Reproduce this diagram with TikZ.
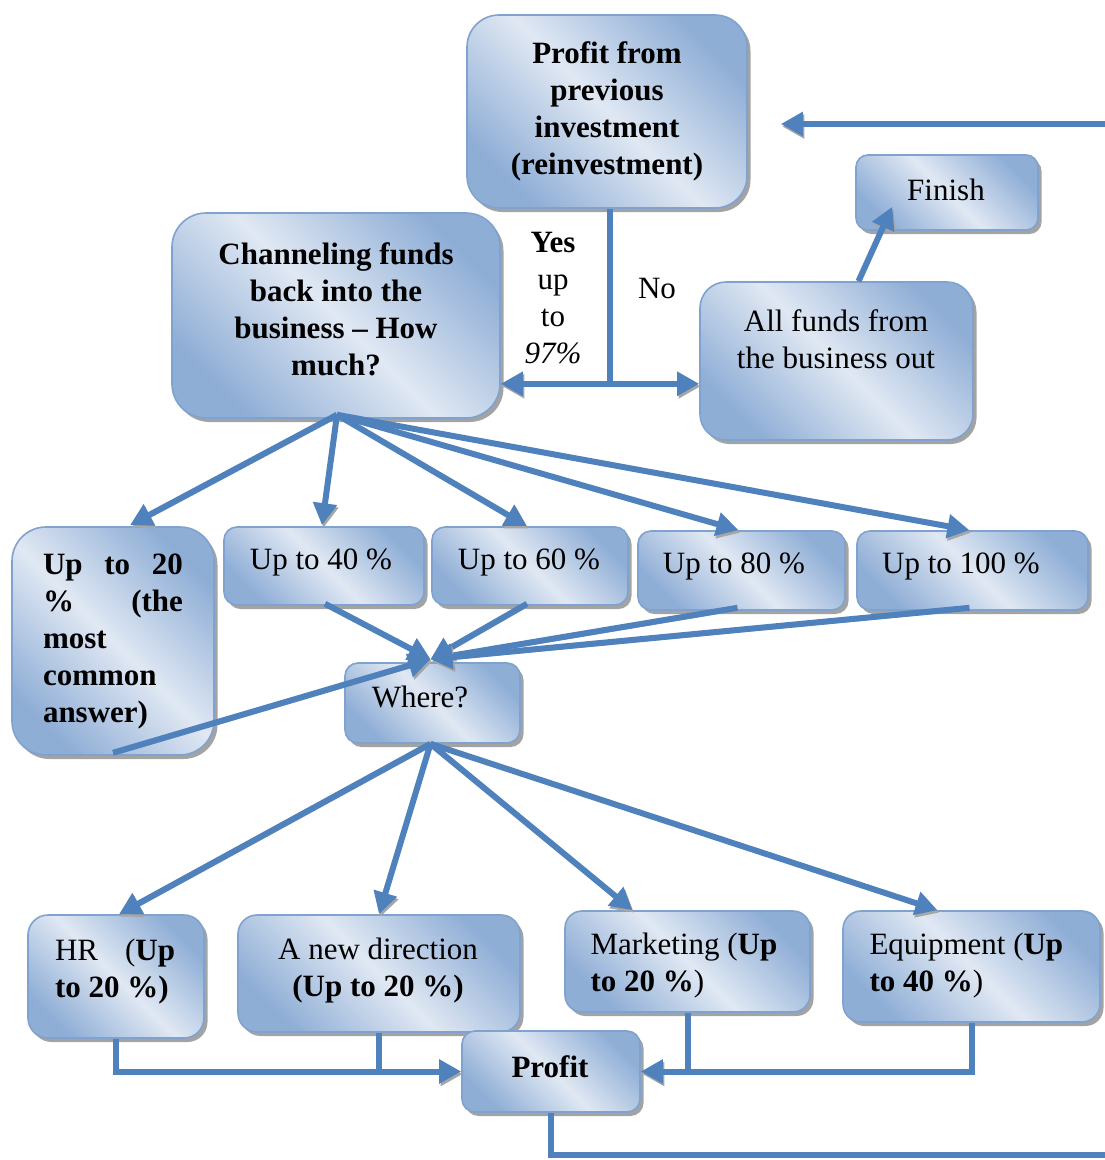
\documentclass[tikz,border=0pt]{standalone}
\usepackage{fontspec}
\setmainfont{Liberation Serif}
\usetikzlibrary{arrows.meta,shadows,calc}
\definecolor{arrblue}{HTML}{4F81BD}
\definecolor{bdark}{HTML}{8FAED6}
\definecolor{blight}{HTML}{E0E8F3}
\definecolor{bline}{HTML}{7FA2CE}
\newcommand\bigfs{\fontsize{31}{37}\selectfont}
\begin{document}
\begin{tikzpicture}[x=1pt,y=-1pt,
  box/.style={draw=bline, line width=1.6pt, rounded corners=#1,
    left color=bdark, right color=bdark, middle color=blight, shading angle=-45,
    drop shadow={shadow xshift=3.5pt, shadow yshift=-4pt, fill=black!60, opacity=0.6},
    inner sep=0pt, align=center, font=\bigfs},
  box/.default=14pt,
  line/.style={draw=arrblue, line width=6pt,
    preaction={draw=black!35, transform canvas={shift={(1.5pt,-2.5pt)}}}},
  arr/.style={line, -{Triangle[length=22pt,width=23pt]}},
  lbl/.style={font=\bigfs, align=center, inner sep=0pt}
]
\useasboundingbox (0,0) rectangle (1105,1160);

% boxes
\node[box=32pt, minimum width=280, minimum height=193, font=\bigfs\bfseries] (prev) at (607,111.5)
  {Profit from\\ previous\\ investment\\ (reinvestment)};
\node[box=34pt, minimum width=328, minimum height=205] (chan) at (336,315.5) {};
\node[lbl, font=\bigfs\bfseries] (chant) at (336,309.5)
  {Channeling funds\\ back into the\\ business – How\\ much?};
\node[box=12pt, minimum width=182, minimum height=75] (finish) at (947,192.5) {};
\node[lbl] (finisht) at (946,190) {Finish};
\node[box=26pt, minimum width=273, minimum height=158] (allf) at (836.5,361) {};
\node[lbl] (allft) at (836,339) {All funds from\\ the business out};

\node[box=34pt, minimum width=202, minimum height=228, text width=140, align=flush left, font=\bigfs\bfseries] (u20) at (113,641)
  {Up\hfill to\hfill 20\\ \%\hfill (the\\ most\\ common\\ answer)};
\node[box=13pt, minimum width=200, minimum height=78] (u40) at (324,566) {};
\node[lbl] (u40t) at (321,562) {Up to 40 \%};
\node[box=13pt, minimum width=196, minimum height=78] (u60) at (530,566) {};
\node[lbl] (u60t) at (529,562) {Up to 60 \%};
\node[box=13pt, minimum width=207, minimum height=79] (u80) at (741.5,570.5) {};
\node[lbl] (u80t) at (734,566) {Up to 80 \%};
\node[box=13pt, minimum width=231, minimum height=79] (u100) at (972.5,570.5) {};
\node[lbl] (u100t) at (961,566) {Up to 100 \%};

\node[box=13pt, minimum width=175, minimum height=80] (where) at (432.5,703) {};
\node[lbl] (wheret) at (420,697) {Where?};

\node[box=20pt, minimum width=176, minimum height=123] (hr) at (116,976.5) {};
\node[lbl, text width=120, align=flush left] (hrt) at (115,972)
  {HR\hfill (\textbf{Up}\\ \textbf{to 20 \%)}};
\node[box=19pt, minimum width=282, minimum height=117] (newd) at (379,973.5) {};
\node[lbl] (newdt) at (378,971) {A new direction\\ \textbf{(Up to 20 \%)}};
\node[box=17pt, minimum width=245, minimum height=101] (mkt) at (687.5,961.5) {};
\node[lbl, text width=195, align=flush left] (mktt) at (688,966)
  {Marketing (\textbf{Up}\\ \textbf{to 20 \%})};
\node[box=18pt, minimum width=257, minimum height=111] (equip) at (971.5,966.5) {};
\node[lbl, text width=203, align=flush left] (equipt) at (971,966)
  {Equipment (\textbf{Up}\\ \textbf{to 40 \%})};
\node[box=13pt, minimum width=178, minimum height=81, font=\bigfs\bfseries] (profit) at (551,1071.5) {};
\node[lbl, font=\bigfs\bfseries] (profitt) at (550,1067) {Profit};

% labels
\node[lbl] (yes) at (553,298) {\textbf{Yes}\\ up\\ to\\ \textit{97\%}};
\node[lbl] (no) at (657,288) {No};

% connectors
\coordinate (topR) at (1110,124);
\draw[arr] (topR) -- ($(prev.east |- topR)+(33,0)$);

\coordinate (split) at ($(prev.south)+(3,175)$);
\draw[line] ($(prev.south)+(3,0)$) -- (split);
\draw[arr] (split) -- (split -| chan.east);
\draw[arr] (split) -- (split -| allf.west);

\draw[arr] ($(allf.north)+(22,0)$) -- ($(finish.south west)+(37,-24)$);

\coordinate (cs) at ($(chan.south)+(1,-4)$);
\draw[arr] (cs) -- ($(u20.north)+(17,-1)$);
\draw[arr] (cs) -- ($(u40.north)+(-2,-1)$);
\draw[arr] (cs) -- ($(u60.north)+(-3,0)$);
\draw[arr] (cs) -- ($(u80.north)+(-3,0)$);
\draw[arr] (cs) -- ($(u100.north)+(-3,0)$);

\coordinate (wn) at ($(where.north)+(-2,-3)$);
\draw[arr] ($(u40.south)+(1,-2)$) -- (wn);
\draw[arr] ($(u60.south)+(-3,-2)$) -- (wn);
\draw[arr] ($(u80.south)+(-4,-3)$) -- (wn);
\draw[arr] ($(u100.south)+(-3,-3)$) -- (wn);
\draw[arr] ($(u20.south)+(0,-3)$) -- (wn);

\coordinate (ws) at ($(where.south)+(-2,0)$);
\draw[arr] (ws) -- ($(hr.north)+(3,0)$);
\draw[arr] (ws) -- (newd.north);
\draw[arr] (ws) -- ($(mkt.north)+(-55,0)$);
\draw[arr] (ws) -- ($(equip.north)+(-34,0)$);

\draw[line] (newd.south) -- (newd.south |- profit.west);
\draw[arr] (hr.south) |- (profit.west);
\draw[line] (mkt.south) -- (mkt.south |- profit.east);
\draw[arr] (equip.south) |- (profit.east);

\coordinate (loopR) at (1110,1155);
\draw[line] (profit.south) |- (loopR);
\end{tikzpicture}
\end{document}
